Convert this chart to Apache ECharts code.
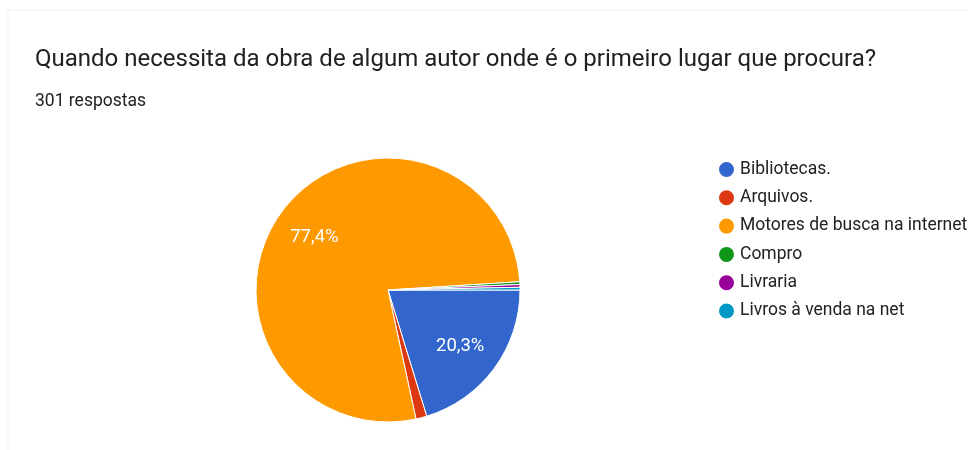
<!DOCTYPE html>
<html>
<head>
<meta charset="utf-8">
<script src="https://cdn.jsdelivr.net/npm/echarts@6/dist/echarts.min.js"></script>
<style>
  html, body { margin: 0; padding: 0; background: #fff; }
  #chart { width: 968px; height: 450px; }
</style>
</head>
<body>
<div id="chart"></div>
<script>
var titleText = 'Quando necessita da obra de algum autor onde é o primeiro lugar que procura?';
var subText = '301 respostas';
var categories = ['Bibliotecas.', 'Arquivos.', 'Motores de busca na internet', 'Compro', 'Livraria', 'Livros à venda na net'];
var counts = [61, 4, 233, 1, 1, 1];
var colors = ['#3366cc', '#dc3912', '#ff9900', '#109618', '#990099', '#0099c6'];

var chart = echarts.init(document.getElementById('chart'), null, { renderer: 'canvas' });

var pieData = categories.map(function (name, i) {
    return { name: name, value: counts[i] };
});
var total = counts.reduce(function (a, b) { return a + b; }, 0);

function pctLabel(p) {
    var v = p.value / total * 100;
    if (v < 5) return '';
    return v.toFixed(1).replace('.', ',') + '%';
}

var option = {
    backgroundColor: '#ffffff',
    color: colors,
    animation: false,
    title: {
        text: titleText,
        subtext: subText,
        left: 30,
        top: 41,
        itemGap: 19,
        textStyle: { fontFamily: 'Roboto', fontSize: 24, fontWeight: 'normal', color: '#202124', lineHeight: 28 },
        subtextStyle: { fontFamily: 'Roboto', fontSize: 17.5, color: '#202124' }
    },
    legend: {
        orient: 'vertical',
        left: 712,
        top: 155,
        icon: 'circle',
        itemWidth: 17,
        itemHeight: 17,
        itemGap: 9.3,
        data: categories,
        textStyle: { fontFamily: 'Roboto', fontSize: 17.5, color: '#222222', lineHeight: 17 }
    },
    graphic: [{
        type: 'rect',
        shape: { x: 8, y: 10, width: 980, height: 460 },
        style: { fill: 'none', stroke: '#f2f2f2', lineWidth: 1 },
        silent: true
    }],
    series: [
        {
            type: 'pie',
            center: [388, 290],
            radius: [0, 132],
            startAngle: 0,
            clockwise: true,
            silent: true,
            data: pieData,
            itemStyle: { borderColor: '#ffffff', borderWidth: 1 },
            label: { show: false },
            labelLine: { show: false }
        },
        {
            type: 'pie',
            center: [388, 290],
            radius: [0, 176],
            startAngle: 0,
            clockwise: true,
            silent: true,
            z: 3,
            data: pieData,
            itemStyle: { color: 'rgba(0,0,0,0)', borderWidth: 0 },
            label: {
                show: true,
                position: 'inside',
                formatter: pctLabel,
                fontFamily: 'Roboto',
                fontSize: 18.5,
                color: '#ffffff',
                offset: [-1, 2]
            },
            labelLine: { show: false }
        }
    ]
};

chart.setOption(option);
</script>
</body>
</html>
